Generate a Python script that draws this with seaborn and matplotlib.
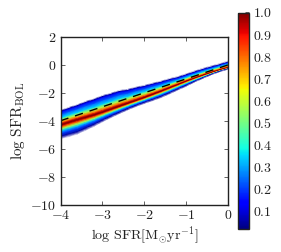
import matplotlib
matplotlib.use("Agg")
import matplotlib.pyplot as plt
from matplotlib.colors import LinearSegmentedColormap
import numpy as np
import pandas as pd
import seaborn as sns

# Values
sfr = [-4.0, -3.8, -3.6, -3.4, -3.2, -3.0, -2.8, -2.6, -2.4, -2.2, -2.0,
       -1.8, -1.6, -1.4, -1.2, -1.0, -0.8, -0.6, -0.4, -0.2, 0.0]
ridge = [-4.27, -4.07, -3.89, -3.72, -3.55, -3.35, -3.14, -2.93, -2.72, -2.51, -2.30,
         -2.07, -1.84, -1.60, -1.36, -1.12, -0.90, -0.69, -0.49, -0.30, -0.13]
upper = [-3.25, -3.03, -2.84, -2.60, -2.42, -2.18, -2.02, -1.82, -1.74, -1.58, -1.46,
         -1.30, -1.16, -0.98, -0.84, -0.64, -0.44, -0.25, -0.08, 0.08, 0.27]
lower = [-5.30, -5.15, -4.98, -4.70, -4.42, -4.10, -3.80, -3.52, -3.25, -3.00, -2.78,
         -2.58, -2.36, -2.10, -1.82, -1.55, -1.25, -0.98, -0.72, -0.50, -0.32]
# band profile: fraction of the way from the ridge to an edge, and density there
below_frac = [0.84, 0.60, 0.44, 0.30, 0.17, 0.07]
below_dens = [0.05, 0.20, 0.33, 0.55, 0.80, 0.95]
above_frac = [0.06, 0.15, 0.30, 0.48, 0.72, 0.90, 0.97]
above_dens = [0.95, 0.80, 0.58, 0.35, 0.22, 0.12, 0.05]
peak = 1.0
one_to_one = pd.DataFrame({"x": [-4, 0], "y": [-4, 0]})
x_ticks = [-4, -3, -2, -1, 0]
y_ticks = [2, 0, -2, -4, -6, -8, -10]
cbar_ticks = [0.1, 0.2, 0.3, 0.4, 0.5, 0.6, 0.7, 0.8, 0.9, 1.0]

sns.set_style("white")
plt.rcParams["mathtext.fontset"] = "cm"
plt.rcParams["font.family"] = ["cmr10", "DejaVu Serif"]
plt.rcParams["axes.formatter.use_mathtext"] = True
plt.rcParams["axes.unicode_minus"] = False

fig = plt.figure(figsize=(2.81, 2.52), dpi=100)
ax = fig.add_axes([60.5 / 281, 1 - 204.5 / 252, 167.5 / 281, 167.5 / 252])

fx = np.array(sfr)
r = np.array(ridge)
u = np.array(upper)
l = np.array(lower)
rows = [r - f * (r - l) for f in below_frac] + [r] + [r + f * (u - r) for f in above_frac]
dens = below_dens + [peak] + above_dens
Y = np.array(rows)
X = np.tile(fx, (Y.shape[0], 1))
C = np.tile(np.array(dens)[:, None], (1, fx.size))

mesh = ax.pcolormesh(X, Y, C, cmap="jet", vmin=0.02, vmax=1.0, shading="gouraud", rasterized=True)

# sparse pale fringe on both sides of the band
fringe = LinearSegmentedColormap.from_list("fringe", ["#ffffff", "#9a9ae6", "#00009f"])
lo_rows = np.array([l, rows[0]])
hi_rows = np.array([rows[-1], u])
for rows_f, vals in [(lo_rows, [0.0, 1.0]), (hi_rows, [1.0, 0.0])]:
    ax.pcolormesh(np.tile(fx, (2, 1)), rows_f, np.tile(np.array(vals)[:, None], (1, fx.size)),
                  cmap=fringe, vmin=0, vmax=1, shading="gouraud", rasterized=True)

sns.lineplot(data=one_to_one, x="x", y="y", ax=ax, color="black", lw=1.0,
             linestyle=(0, (6, 5)), legend=False)

ax.set_xlim(-4, 0)
ax.set_ylim(-10, 2)
ax.set_xticks(x_ticks)
ax.set_xticklabels([f"${v}$" for v in x_ticks], fontsize=10)
ax.set_yticks(y_ticks)
ax.set_yticklabels([f"${v}$" for v in y_ticks], fontsize=10)
ax.tick_params(direction="in", top=True, right=True, left=True, bottom=True,
               length=3.2, width=0.5, color="#222222", labelcolor="#222222", pad=3)
for s in ax.spines.values():
    s.set_visible(True)
    s.set_linewidth(1.0)
    s.set_color("#222222")
ax.set_xlabel(r"$\log\,\mathrm{SFR}[\mathrm{M_{\odot}yr^{-1}}]$", fontsize=10.2, color="#222222", labelpad=2)
ax.set_ylabel(r"$\log\,\mathrm{SFR_{BOL}}$", fontsize=11, color="#222222", labelpad=2)

cax = fig.add_axes([238 / 281, 1 - 229 / 252, 11 / 281, 216.5 / 252])
cb = fig.colorbar(mesh, cax=cax, ticks=cbar_ticks)
cb.ax.set_yticklabels([f"${v:.1f}$" for v in cbar_ticks], fontsize=10, color="#222222")
cb.ax.tick_params(direction="in", length=3.2, width=0.5, color="#222222", pad=3, right=True, left=False)
cb.outline.set_linewidth(1.0)
cb.outline.set_edgecolor("#222222")

fig.savefig("out.png", dpi=100)
